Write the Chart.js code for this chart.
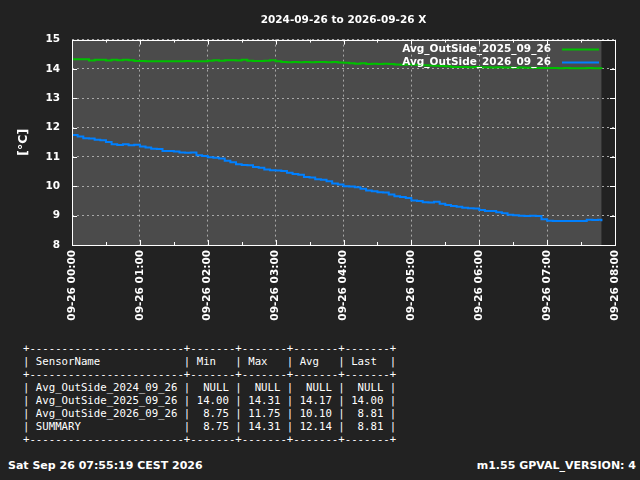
<!DOCTYPE html>
<html>
<head>
<meta charset="utf-8">
<script src="https://cdn.jsdelivr.net/npm/chart.js@4"></script>
<style>
body { margin: 0; background: #222222; }
#wrap { position: relative; width: 640px; height: 480px; background: #222222; overflow: hidden; }
#box { position: absolute; left: 0; top: 0; width: 640px; height: 330px; }
#tabla { position: absolute; left: 23px; top: 342px; margin: 0; color: #ffffff;
  font: 10.7px/13px "DejaVu Sans Mono", monospace; white-space: pre; }
.pie { position: absolute; top: 459px; color: #ffffff; font: bold 11px/13px "DejaVu Sans", sans-serif; }
</style>
</head>
<body>
<div id="wrap">
  <div id="box"><canvas id="canvas-grafico"></canvas></div>
<pre id="tabla">+------------------------+-------+-------+-------+-------+
| SensorName             | Min   | Max   | Avg   | Last  |
+------------------------+-------+-------+-------+-------+
| Avg_OutSide_2024_09_26 |  NULL |  NULL |  NULL |  NULL |
| Avg_OutSide_2025_09_26 | 14.00 | 14.31 | 14.17 | 14.00 |
| Avg_OutSide_2026_09_26 |  8.75 | 11.75 | 10.10 |  8.81 |
| SUMMARY                |  8.75 | 14.31 | 12.14 |  8.81 |
+------------------------+-------+-------+-------+-------+</pre>
  <div class="pie" style="left:8px">Sat Sep 26 07:55:19 CEST 2026</div>
  <div class="pie" style="right:4px">m1.55 GPVAL_VERSION: 4</div>
</div>
<script>
// minutos desde 09-26 00:00
const minutos = [0,5,10,15,20,25,30,35,40,45,50,55,
  60,65,70,75,80,85,90,95,100,105,110,115,
  120,125,130,135,140,145,150,155,160,165,170,175,
  180,185,190,195,200,205,210,215,220,225,230,235,
  240,245,250,255,260,265,270,275,280,285,290,295,
  300,305,310,315,320,325,330,335,340,345,350,355,
  360,365,370,375,380,385,390,395,400,405,410,415,
  420,425,430,435,440,445,450,455,460,465,468];

const avg_2025 = [14.33,14.33,14.33,14.29,14.31,14.31,14.29,14.31,14.30,14.31,14.30,14.27,
  14.27,14.26,14.26,14.26,14.26,14.26,14.26,14.26,14.27,14.26,14.26,14.26,
  14.28,14.30,14.28,14.30,14.30,14.29,14.31,14.28,14.27,14.27,14.28,14.30,
  14.26,14.24,14.23,14.24,14.23,14.24,14.23,14.24,14.24,14.23,14.24,14.22,
  14.21,14.19,14.18,14.19,14.17,14.18,14.17,14.18,14.17,14.15,14.14,14.15,
  14.14,14.14,14.13,14.12,14.11,14.10,14.09,14.07,14.07,14.07,14.06,14.07,
  14.06,14.06,14.05,14.06,14.05,14.05,14.04,14.05,14.04,14.04,14.03,14.03,
  14.03,14.03,14.02,14.03,14.02,14.02,14.02,14.03,14.02,14.02,14.00];

const avg_2026 = [11.75,11.70,11.64,11.63,11.59,11.57,11.51,11.43,11.41,11.43,11.40,11.42,
  11.36,11.32,11.28,11.27,11.20,11.20,11.19,11.15,11.14,11.15,11.06,11.03,
  10.99,10.97,10.95,10.87,10.82,10.75,10.73,10.72,10.66,10.63,10.57,10.55,
  10.54,10.52,10.46,10.42,10.39,10.32,10.30,10.24,10.22,10.17,10.10,10.06,
  10.00,9.99,9.97,9.92,9.86,9.83,9.80,9.79,9.72,9.66,9.64,9.60,
  9.52,9.50,9.46,9.45,9.47,9.41,9.36,9.33,9.30,9.27,9.25,9.24,
  9.19,9.16,9.16,9.12,9.08,9.03,9.01,9.00,8.99,9.00,8.99,8.88,
  8.83,8.82,8.82,8.82,8.82,8.82,8.82,8.86,8.85,8.86,8.81];

const series = ["Avg_OutSide_2025_09_26", "Avg_OutSide_2026_09_26"];
const colores = ["#00c000", "#0080ff"];
const titulo = "2024-09-26 to 2026-09-26 X";
const yLabel = "[°C]";

Chart.defaults.font.family = "DejaVu Sans";
Chart.defaults.color = "#ffffff";

function pad(n){ return (n < 10 ? "0" : "") + n; }

// fondo gris del rango de datos, borde, ticks internos y leyenda estilo gnuplot
const gnuplotLook = {
    id: "gnuplotLook",
    beforeDraw(chart){
        const ctx = chart.ctx, a = chart.chartArea, xs = chart.scales.x;
        const x0 = xs.getPixelForValue(minutos[0]);
        const x1 = xs.getPixelForValue(minutos[minutos.length - 1]);
        ctx.save();
        ctx.fillStyle = "#4b4b4b";
        ctx.fillRect(x0, a.top, x1 - x0, a.bottom - a.top);
        ctx.restore();
    },
    afterDraw(chart){
        const ctx = chart.ctx, a = chart.chartArea, xs = chart.scales.x, ys = chart.scales.y;
        ctx.save();
        ctx.strokeStyle = "#ffffff";
        ctx.lineWidth = 1;
        ctx.beginPath();
        for (let v = 30; v < 480; v += 30) {
            const px = Math.round(xs.getPixelForValue(v)) + 0.5;
            const len = v % 60 === 0 ? 5 : 3;
            ctx.moveTo(px, a.bottom); ctx.lineTo(px, a.bottom - len);
            ctx.moveTo(px, a.top); ctx.lineTo(px, a.top + len);
        }
        for (let v = 9; v < 15; v++) {
            const py = Math.round(ys.getPixelForValue(v)) + 0.5;
            ctx.moveTo(a.left, py); ctx.lineTo(a.left + 5, py);
            ctx.moveTo(a.right, py); ctx.lineTo(a.right - 5, py);
        }
        ctx.stroke();
        ctx.strokeRect(Math.round(a.left) + 0.5, Math.round(a.top) + 0.5,
            Math.round(a.right - a.left), Math.round(a.bottom - a.top));

        ctx.font = "bold 10.5px 'DejaVu Sans'";
        ctx.textAlign = "right";
        ctx.textBaseline = "middle";
        chart.data.datasets.forEach((ds, i) => {
            const y = a.top + 10 + i * 13;
            ctx.fillStyle = "#ffffff";
            ctx.fillText(ds.label, a.right - 64, y);
            ctx.strokeStyle = ds.borderColor;
            ctx.lineWidth = 2;
            ctx.beginPath();
            ctx.moveTo(a.right - 53, y);
            ctx.lineTo(a.right - 16, y);
            ctx.stroke();
        });
        ctx.restore();
    }
};

const datasets = series.map((nombre, i) => ({
    label: nombre,
    data: minutos.map((m, j) => ({ x: m, y: (i === 0 ? avg_2025 : avg_2026)[j] })),
    borderColor: colores[i],
    borderWidth: 2,
    pointRadius: 0,
    stepped: true,
    fill: false
}));

const ctx_g = document.getElementById("canvas-grafico");
new Chart(ctx_g, {
    type: "line",
    data: { datasets: datasets },
    plugins: [gnuplotLook],
    options: {
        responsive: true,
        maintainAspectRatio: false,
        animation: false,
        layout: { padding: { left: 0, right: 25, top: 0, bottom: 0 } },
        plugins: {
            legend: { display: false },
            tooltip: { enabled: false },
            title: {
                display: true,
                text: titulo,
                fullSize: false,
                color: "#ffffff",
                font: { size: 10.5, weight: "bold" },
                padding: { top: 13.5, bottom: 13.5 }
            }
        },
        scales: {
            x: {
                type: "linear",
                min: 0,
                max: 480,
                afterFit: (s) => { s.height = 85; },
                grid: { color: "#a8a8a8", drawTicks: false, lineWidth: 1 },
                border: { display: false, dash: [2, 3] },
                ticks: {
                    stepSize: 60,
                    autoSkip: false,
                    minRotation: 90,
                    maxRotation: 90,
                    padding: 5,
                    color: "#ffffff",
                    font: { size: 10.5, weight: "bold" },
                    callback: (v) => "09-26 " + pad(v / 60) + ":00"
                }
            },
            y: {
                min: 8,
                max: 15,
                afterFit: (s) => { s.width = 72; },
                grid: { color: "#a8a8a8", drawTicks: false, lineWidth: 1 },
                border: { display: false, dash: [2, 3] },
                title: {
                    display: true,
                    text: yLabel,
                    color: "#ffffff",
                    font: { size: 12.5, weight: "bold" },
                    padding: { top: 16, bottom: 0 }
                },
                ticks: {
                    stepSize: 1,
                    padding: 12,
                    color: "#ffffff",
                    font: { size: 10.5, weight: "bold" }
                }
            }
        }
    }
});
</script>
</body>
</html>
